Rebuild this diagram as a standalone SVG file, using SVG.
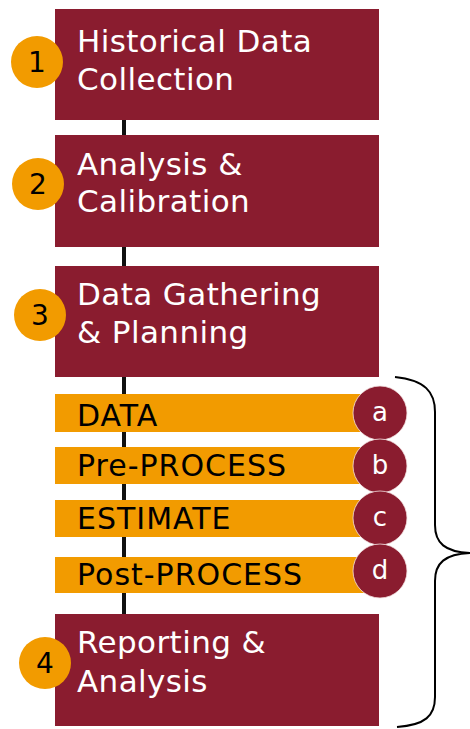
<svg xmlns="http://www.w3.org/2000/svg" width="470" height="729" viewBox="0 0 470 729">
<style>
.box{fill:#8A1C2F}
.bar{fill:#F29B00}
.num{fill:#F29B00}
.sub{fill:#8A1C2F;stroke:#f3e0e0;stroke-width:0.8}
.t{font-family:"DejaVu Sans",Verdana,sans-serif;font-size:31px;letter-spacing:0.4px;fill:#ffffff}
.bt{font-family:"DejaVu Sans",Verdana,sans-serif;font-size:30px;letter-spacing:1px;fill:#000000}
.nt{font-family:"DejaVu Sans",Verdana,sans-serif;font-size:28px;fill:#000000;text-anchor:middle}
.st{font-family:"DejaVu Sans",Verdana,sans-serif;font-size:26px;fill:#ffffff;text-anchor:middle}
</style>
<rect width="470" height="729" fill="#ffffff"/>
<g id="connectors">
<line x1="124" y1="120" x2="124" y2="614" stroke="#111" stroke-width="4"/>
<path d="M395,377 C425,380 435,392 435,412 L435,525 C435,543 445,552 470,553 C445,554 435,563 435,581 L435,697 C435,716 425,725 397,727" fill="none" stroke="#000" stroke-width="2"/>
</g>
<g id="step1">
<rect class="box" x="55" y="9" width="324" height="111"/>
<text class="t" x="77" y="52">Historical Data</text>
<text class="t" x="77" y="90">Collection</text>
<circle class="num" cx="37" cy="62" r="26"/>
<text class="nt" x="37" y="72">1</text>
</g>
<g id="step2">
<rect class="box" x="55" y="135" width="324" height="112"/>
<text class="t" x="77" y="175">Analysis &amp;</text>
<text class="t" x="77" y="212">Calibration</text>
<circle class="num" cx="38" cy="184" r="26"/>
<text class="nt" x="38" y="194">2</text>
</g>
<g id="step3">
<rect class="box" x="55" y="266" width="324" height="111"/>
<text class="t" x="77" y="305">Data Gathering</text>
<text class="t" x="77" y="343">&amp; Planning</text>
<circle class="num" cx="40" cy="315" r="26"/>
<text class="nt" x="40" y="325">3</text>
</g>
<g id="sub-a">
<rect class="bar" x="55" y="394" width="315" height="38"/>
<text class="bt" x="77" y="426">DATA</text>
<circle class="sub" cx="380" cy="413" r="27"/>
<text class="st" x="380" y="421">a</text>
</g>
<g id="sub-b">
<rect class="bar" x="55" y="447" width="315" height="37"/>
<text class="bt" x="77" y="476">Pre-PROCESS</text>
<circle class="sub" cx="380" cy="466" r="27"/>
<text class="st" x="380" y="474">b</text>
</g>
<g id="sub-c">
<rect class="bar" x="55" y="500" width="315" height="37"/>
<text class="bt" x="77" y="529">ESTIMATE</text>
<circle class="sub" cx="380" cy="518" r="27"/>
<text class="st" x="380" y="526">c</text>
</g>
<g id="sub-d">
<rect class="bar" x="55" y="557" width="315" height="36"/>
<text class="bt" x="77" y="585">Post-PROCESS</text>
<circle class="sub" cx="380" cy="571" r="27"/>
<text class="st" x="380" y="579">d</text>
</g>
<g id="step4">
<rect class="box" x="55" y="614" width="324" height="112"/>
<text class="t" x="77" y="653">Reporting &amp;</text>
<text class="t" x="77" y="692">Analysis</text>
<circle class="num" cx="45" cy="663" r="26"/>
<text class="nt" x="45" y="673">4</text>
</g>
</svg>
